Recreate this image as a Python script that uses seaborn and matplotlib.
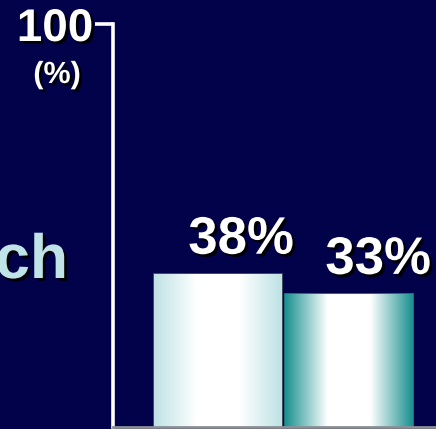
import numpy as np
import pandas as pd
import matplotlib
matplotlib.use("Agg")
import matplotlib.pyplot as plt
import matplotlib.patheffects as pe
from matplotlib.colors import LinearSegmentedColormap
import seaborn as sns

# data
groups = ["bar1", "bar2"]
values = [38, 33]
value_labels = ["38%", "33%"]
y_max = 100

bg = "#02024a"
edge_cols = ["#505a60", "#1a8c8c"]
grad_cols = [["#bfe2e5", "#ffffff", "#ffffff", "#bfe2e5"],
             ["#199190", "#ffffff", "#ffffff", "#1a9090"]]

sns.set_style("white")
plt.rcParams['font.family'] = ['Liberation Sans', 'DejaVu Sans']
plt.rcParams['font.weight'] = 'bold'

W, H = 436, 429
fig = plt.figure(figsize=(W / 100, H / 100), dpi=100, facecolor=bg)
ax = fig.add_axes([113 / W, (H - 427) / H, (W - 113) / W, (427 - 24) / H])
ax.set_facecolor(bg)

df = pd.DataFrame({"group": groups, "value": values})
sns.barplot(data=df, x="group", y="value", width=0.98, ax=ax,
            color="white", saturation=1, zorder=2)

ax.set_xlim(-0.805, 1.67)
ax.set_ylim(0, y_max)

shadow = [pe.withSimplePatchShadow(offset=(2, -2), shadow_rgbFace="black", alpha=0.9)]

label_dx = [0.176, 0.226]

# gradient fill for each bar
for i, p in enumerate(ax.patches):
    x0, y0 = p.get_x(), p.get_y()
    w, h = p.get_width(), p.get_height()
    p.set_edgecolor(edge_cols[i])
    p.set_linewidth(1.2)
    cmap = LinearSegmentedColormap.from_list("g%d" % i, grad_cols[i])
    grad = np.linspace(0, 1, 256).reshape(1, -1)
    im = ax.imshow(grad, cmap=cmap, aspect="auto", extent=[x0, x0 + w, y0, y0 + h],
                   zorder=2.5, interpolation="bilinear")
    im.set_clip_path(p)
    ax.text(x0 + w / 2 + label_dx[i], h + 5, value_labels[i],
            ha="center", va="baseline", color="white", fontsize=38, fontweight="bold",
            path_effects=shadow, zorder=4)

# axes styling
for s in ["top", "right"]:
    ax.spines[s].set_visible(False)
ax.spines["left"].set_color("white")
ax.spines["left"].set_linewidth(2.6)
ax.spines["bottom"].set_color("#8a8f94")
ax.spines["bottom"].set_linewidth(2)
ax.set_xticks([])
ax.set_yticks([y_max])
ax.set_yticklabels([str(y_max)])
ax.tick_params(axis="y", left=True, colors="white", length=13, width=2.6, pad=1,
               labelsize=33)
for t in ax.get_yticklabels():
    t.set_fontweight("bold")
    t.set_path_effects(shadow)
ax.set_xlabel("")
ax.set_ylabel("")

fig.text(57 / W, 1 - 75 / H, "(%)", ha="center", va="center", color="white",
         fontsize=22, fontweight="bold", path_effects=shadow)
fig.text(68 / W, 1 - 278 / H, "ch", ha="right", va="baseline", color="#bfe3e6",
         fontsize=45, fontweight="bold", path_effects=shadow)

fig.savefig("out.png", dpi=100, facecolor=bg)
